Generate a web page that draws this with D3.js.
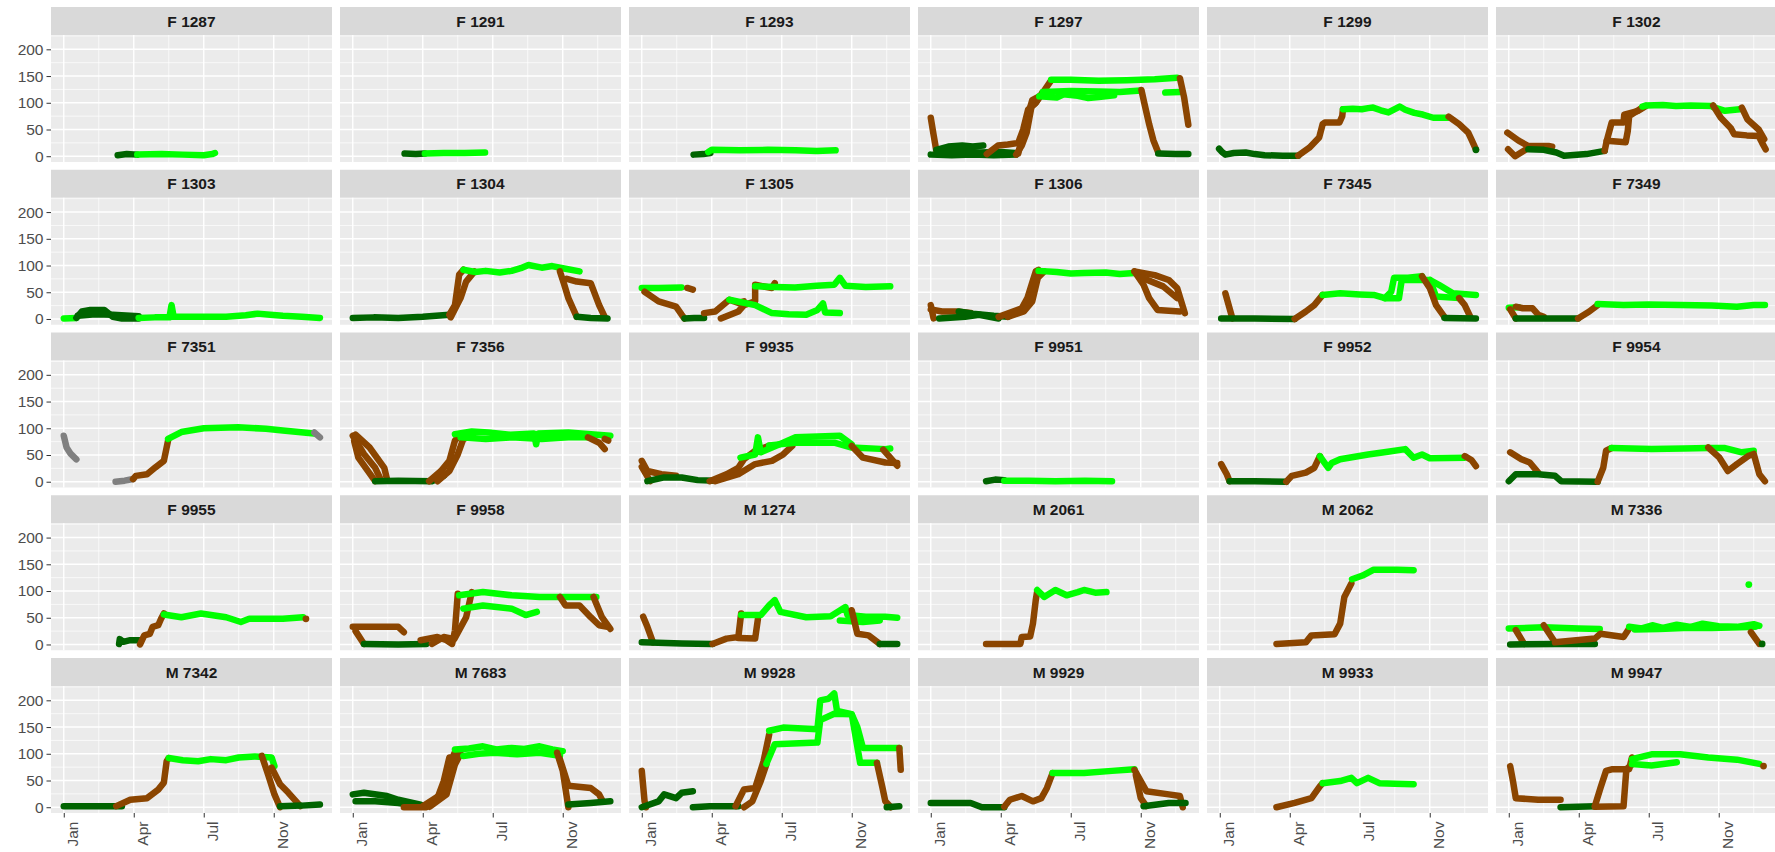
<!DOCTYPE html>
<html>
<head>
  <meta charset="utf-8"/>
  <title>Tracks by individual</title>
  <script src="https://cdn.jsdelivr.net/npm/d3@7"></script>
<style>
body { margin: 0; background: #fff; }
.strip text { font: bold 15.5px "Liberation Sans", Arial, sans-serif; fill: #1A1A1A; text-anchor: middle; }
.axis text { font: 15.5px "Liberation Sans", Arial, sans-serif; fill: #4D4D4D; }
.axis line { stroke: #333333; }
.axis path { display: none; }
</style>
</head>
<body>
<div id="chart"></div>
<script>
// panel names in facet order
var panelIds = ["F 1287","F 1291","F 1293","F 1297","F 1299","F 1302",
                "F 1303","F 1304","F 1305","F 1306","F 7345","F 7349",
                "F 7351","F 7356","F 9935","F 9951","F 9952","F 9954",
                "F 9955","F 9958","M 1274","M 2061","M 2062","M 7336",
                "M 7342","M 7683","M 9928","M 9929","M 9933","M 9947"];

var monthTicks = [0, 100, 200, 300];
var monthLabels = ["Jan", "Apr", "Jul", "Nov"];
var yTicks = [0, 50, 100, 150, 200];

// state codes: w = winter, m = migration, s = summer, u = unknown
// each segment: [state, day, value, day, value, ...]
var F1287 = [["w",77,2,90,4,105,3],["s",105,3,140,4,170,3,200,2,212,4,216,6]];
var F1291 = [["w",74,5,90,4,103,5],["s",103,5,130,6,160,6,189,7]];
var F1293 = [["w",74,3,88,4,98,6],["s",95,8,100,12,140,11,180,12,220,11,250,10,277,11]];
var F1297 = [["m",0,72,4,40,8,10,10,4],["w",0,3,30,2,60,3,90,2,122,3],["w",8,12,25,18,45,20,60,18,75,20],
  ["w",10,8,40,9,70,7,100,8,120,6],["m",80,4,96,20,110,22,125,25,132,50,139,87,150,100,158,115,172,142],
  ["m",122,3,130,20,137,44,144,93,150,100,160,120],["m",125,5,135,60,145,105,155,112],
  ["s",172,143,200,143,240,141,280,142,320,144,352,147],["s",160,120,200,122,240,121,270,120,300,123],
  ["s",155,112,180,110,190,116,210,113,225,109,240,111,262,114],["s",335,119,356,120],["m",356,146,362,110,368,59],
  ["m",301,124,305,100,312,60,318,30,325,7],["w",325,5,350,4,368,4]];
var F1299 = [["w",-1,14,3,8,8,3,20,6,37,7,50,4,64,2,90,1,112,1],
  ["m",112,1,128,16,142,35,147,60,150,63,171,63,175,75,176,88],
  ["s",176,88,190,89,203,88,212,90,219,91,230,86,241,82,257,93,265,87,278,81,290,78,305,72,326,72],
  ["m",327,74,342,60,355,44,360,30,366,13],["w",366,12]];
var F1302 = [["m",-2,44,14,29,28,19,57,19,62,18],["m",-1,13,9,0,25,13],["w",28,13,50,12,68,7,79,1,111,4,137,10],
  ["m",137,10,140,29,147,63,164,63,165,78,185,85,196,94],["m",140,29,167,26,170,47,172,75,191,91],
  ["s",191,93,196,95,220,96,239,94,260,95,292,94],["s",292,92,309,85,330,88],
  ["m",292,95,303,72,317,53,322,41,340,39,357,38,362,25,367,13],["m",333,91,341,69,357,50,365,32]];
var F1303 = [["s",0,1,18,2],["w",18,2,26,14,38,17,58,17,70,4,83,1,107,1],["w",20,6,45,9,70,8,95,6,107,5],
  ["s",107,2,130,3,151,3,154,26,157,4,192,4,232,4,260,7,277,10,295,8,313,6,340,4,366,2]];
var F1304 = [["w",0,2,30,3,65,2,100,4,138,8],["m",138,8,146,26,152,83,158,92],["m",140,3,154,39,162,70,174,89],
  ["s",158,92,175,88,190,90,210,87,227,90,240,95,251,101,270,96,285,99,300,95,324,89],["m",296,89,302,65,308,39,320,4],
  ["m",306,75,320,70,340,67,352,26,360,4],["w",320,4,340,2,364,1]];
var F1305 = [["s",0,58,24,58,57,59],["m",65,58,73,55],["m",4,51,24,33,49,23,57,8,61,1],["w",61,1,75,2,89,2],
  ["m",89,11,105,14,125,36,138,30,146,33],["m",113,1,138,14,146,26,162,33,162,64,186,58,190,67],
  ["s",162,61,190,60,219,59,250,62,275,64,283,77,291,62,320,60,355,61],
  ["s",125,36,162,26,186,11,210,9,235,8,251,17,259,29,262,12,283,11]];
var F1306 = [["m",0,26,4,1],["m",0,18,16,14,36,14,57,11],["w",12,1,49,4,69,8,97,1],["w",40,14,60,10,90,6,110,4],
  ["m",97,4,130,20,138,39,144,64,150,89,154,92],["m",110,4,133,14,145,33,153,77,162,89],
  ["s",154,90,180,88,200,85,219,86,250,87,270,84,291,86],["m",291,89,304,64,312,39,324,17,356,14],
  ["m",291,89,320,82,340,73,352,58,363,11],["m",300,78,332,61,352,39]];
var F7345 = [["m",8,48,18,1],["w",2,1,50,1,107,0],["m",107,0,123,14,135,26,147,45],
  ["s",147,45,172,48,200,46,220,45,236,39,245,51,249,77,269,77,289,80],
  ["s",236,39,256,39,260,73,300,73,313,64,333,48,366,45],["s",300,73,309,42,342,39],
  ["m",289,80,300,58,309,26,321,4],["m",342,39,350,26,358,4],["w",321,2,366,1]];
var F7349 = [["s",0,21,14,22],["m",10,23,20,20,34,20,42,8,50,4],["m",2,18,10,1],["w",10,1,66,1,99,1],
  ["m",99,1,115,14,127,26],["s",127,28,164,26,200,27,245,26,290,25,326,23,350,26,366,26]];
var F7351 = [["u",0,86,4,64,10,52,18,42],["u",74,0,87,2,99,5],["m",99,5,103,11,119,14,131,27,143,39,149,77],
  ["s",149,80,168,93,200,100,249,102,289,99,313,96,350,91,358,90],["u",358,92,366,83]];
var F7356 = [["m",0,86,16,52,32,26,40,4],["m",4,88,24,64,45,26,49,4],["m",2,76,8,45,32,1],
  ["w",32,1,65,2,113,1,130,11],["m",109,1,126,20,138,39,146,77,154,89],["m",121,1,138,20,150,51,158,80,170,86],
  ["s",146,89,170,94,194,92,225,88,259,90,262,70,265,90,308,92,368,86],["s",154,83,190,80,227,83,270,80,308,83,340,83],
  ["m",336,83,352,73,360,61],["m",360,80,365,77]];
var F9935 = [["m",0,39,8,20,28,14,49,11],["m",0,28,12,1],["w",8,1,32,8,57,8,80,3,105,2],
  ["m",97,1,121,14,138,26,146,42,162,58,182,67],["m",105,1,138,14,162,33,186,39,202,51,215,67],
  ["s",141,45,162,51,166,83,170,55,186,64,202,73,219,83,283,86,300,70],
  ["s",182,68,219,73,275,73,300,64,348,61,355,62],["m",300,67,316,45,348,36,365,35],["m",345,60,355,45,365,30]];
var F9951 = [["w",79,1,92,4,105,3],["s",105,2,140,2,178,1,220,2,259,1]];
var F9952 = [["m",2,33,10,14,14,1],["w",14,1,50,1,95,0],["m",95,0,103,11,123,17,135,26,143,48],
  ["s",143,48,150,35,155,26,160,35,172,42,212,51,240,56,265,61,277,45,289,51,300,44,350,45],
  ["m",350,48,360,40,366,29]];
var F9954 = [["m",2,55,18,42,30,36,42,17],["w",0,1,10,14,42,14,66,11,75,1,127,0],["m",127,0,135,26,139,58,147,63],
  ["s",147,63,204,61,250,62,285,63,309,63,333,55,350,58],
  ["m",285,64,301,45,313,20,326,33,342,48,350,52,358,14,366,1]];
var F9955 = [["w",79,1,80,10,85,5,95,8,109,8],["m",109,0,115,17,123,20,127,33,135,36,139,48,143,58],
  ["s",143,56,168,51,196,58,232,51,253,42,265,48,313,48,342,51],["m",346,48]];
var F9958 = [["m",0,33,24,33,65,33,73,23],["m",4,25,16,1],["w",16,1,65,0,105,1],
  ["m",97,8,121,14,134,8,142,1,146,26,150,95],["m",113,1,130,14,145,10,162,51,170,98],
  ["s",152,92,186,98,227,92,267,89,308,89,348,89],["s",158,67,186,73,227,67,247,55,263,61],
  ["m",296,89,304,73,324,73,340,51,352,36,364,33],["m",344,89,356,51,368,29]];
var M1274 = [["m",2,52,8,33,16,4],["w",0,4,57,2,101,1],["m",101,1,121,11,138,14,142,58],["m",138,12,162,11,166,48],
  ["s",142,55,170,55,182,73,190,83,198,61,235,51,270,53,291,70,294,55,320,52,348,52,365,50],
  ["s",283,45,316,42,340,45],["m",300,64,308,20,324,17,340,1],["w",340,1,365,1]];
var M2061 = [["m",79,1,128,1,130,14,142,15,146,39,150,83,152,99],
  ["s",152,102,162,89,178,102,194,92,210,98,219,102,235,97,251,98]];
var M2062 = [["m",81,1,123,4,131,17,164,19,172,39,178,89,188,114],["s",189,122,204,129,220,140,253,140,277,139]];
var M7336 = [["s",0,30,50,32,100,30,130,29],["m",50,36,66,4],["m",10,27,22,1],["w",2,0,66,1,123,1],
  ["m",66,4,123,11,131,20,164,14,172,30],
  ["s",172,33,190,30,205,36,220,31,240,37,260,33,277,39,300,34,326,33,350,38,358,35],
  ["s",180,28,215,29,250,31,290,31,330,32,352,33],
  ["s",343,112],["m",346,23,358,1],["w",362,1]];
var M7342 = [["w",0,2,40,2,83,2],["m",75,2,95,14,119,17,135,33,143,46,147,86,150,92],
  ["s",150,92,170,88,192,86,210,90,232,88,250,93,273,95,297,93,301,77],["m",283,96,292,61,301,24,309,0],
  ["m",297,74,309,43,321,27,338,2],["w",309,2,340,3,366,5]];
var M7683 = [["w",0,24,16,27,49,21,65,14,97,5],["w",4,11,32,11,65,8,97,2],["m",73,0,105,0,121,17,130,49,138,93],
  ["m",100,2,126,24,138,80,146,103],["m",110,1,134,24,146,80,154,100],
  ["s",146,108,166,110,186,114,205,108,227,111,245,109,267,114,285,108,300,105],["s",158,96,180,100,202,102,235,99,267,102,296,96],
  ["m",292,102,300,68,308,0],["m",296,90,308,40,340,36,352,24,356,14],["w",308,5,340,8,368,11]];
var M9928 = [["m",0,68,4,11,6,0],["w",0,0,24,11,32,24,49,17,57,27,73,30],["w",73,0,97,2,138,2],
  ["m",134,2,146,33,162,36,174,86,182,136],["m",146,0,158,11,170,49,178,80],
  ["s",182,143,202,149,251,146,255,200,267,203,275,213,279,180,300,174,308,150,316,111,368,111],
  ["s",178,81,190,118,251,121,255,163,275,175,300,174,312,83,336,83],
  ["m",336,83,344,36,348,11,356,0],["w",350,0,368,2],["m",368,111,370,70]];
var M9929 = [["w",0,8,57,8,73,0,105,0],["m",105,1,113,14,130,21,146,11,158,17,166,36,174,64],
  ["s",174,64,219,64,259,68,291,71],["m",291,70,300,49,308,30,340,24,356,21,360,0],
  ["m",293,60,300,17,308,2],["w",304,2,340,8,364,8]];
var M9933 = [["m",81,0,107,8,131,17,143,39,147,45],["s",147,45,172,49,188,55,196,45,212,55,228,45,250,44,277,43]];
var M9947 = [["m",2,77,6,49,10,17,42,14,74,14],["w",74,0,123,2],["m",123,2,131,36,139,68,147,71,172,71,176,93],
  ["m",123,1,164,2,168,71,176,80],["s",176,90,204,99,245,99,285,93,326,89,358,81],["s",176,81,204,78,240,84],
  ["m",364,77]];

var panelTracks = [F1287,F1291,F1293,F1297,F1299,F1302,F1303,F1304,F1305,F1306,F7345,F7349,
                   F7351,F7356,F9935,F9951,F9952,F9954,F9955,F9958,M1274,M2061,M2062,M7336,
                   M7342,M7683,M9928,M9929,M9933,M9947];

var stateColour = {w: "#006400", m: "#8B4500", s: "#00FF00", u: "#808080"};

var width = 1775, height = 852,
    ncol = 6, left0 = 51, colStep = 289, top0 = 7, rowStep = 162.75,
    pw = 281, ph = 127, stripH = 28;

var x = d3.scaleLinear().domain([-18.25, 383.25]).range([0, pw]);
var y = d3.scaleLinear().domain([-10.8, 226.8]).range([ph, 0]);

var line = d3.line().x(function(d) { return x(d[0]); }).y(function(d) { return y(d[1]); });

var svg = d3.select("#chart").append("svg")
    .attr("width", width)
    .attr("height", height);

svg.append("defs").append("clipPath").attr("id", "panelClip")
  .append("rect").attr("width", pw).attr("height", ph);

function toPoints(seg) {
  var pts = [];
  for (var i = 1; i < seg.length; i += 2) pts.push([seg[i], seg[i + 1]]);
  return pts;
}

panelIds.forEach(function(id, k) {
  var col = k % ncol, row = Math.floor(k / ncol);
  var g = svg.append("g")
      .attr("transform", "translate(" + (left0 + col * colStep) + "," + (top0 + row * rowStep) + ")");

  var strip = g.append("g").attr("class", "strip");
  strip.append("rect").attr("width", pw).attr("height", stripH).attr("fill", "#D9D9D9");
  strip.append("text").attr("x", pw / 2).attr("y", stripH / 2).attr("dy", "0.36em").text(id);

  var p = g.append("g").attr("transform", "translate(0," + stripH + ")");
  p.append("rect").attr("width", pw).attr("height", ph).attr("fill", "#EBEBEB");

  // minor grid
  p.selectAll(".vminor").data([50, 150, 250, 350]).enter().append("line")
      .attr("x1", x).attr("x2", x).attr("y1", 0).attr("y2", ph)
      .attr("stroke", "#fff").attr("stroke-width", 0.7);
  p.selectAll(".hminor").data([25, 75, 125, 175, 225]).enter().append("line")
      .attr("y1", y).attr("y2", y).attr("x1", 0).attr("x2", pw)
      .attr("stroke", "#fff").attr("stroke-width", 0.7);
  // major grid
  p.selectAll(".vmajor").data(monthTicks).enter().append("line")
      .attr("x1", x).attr("x2", x).attr("y1", 0).attr("y2", ph)
      .attr("stroke", "#fff").attr("stroke-width", 1.4);
  p.selectAll(".hmajor").data(yTicks).enter().append("line")
      .attr("y1", y).attr("y2", y).attr("x1", 0).attr("x2", pw)
      .attr("stroke", "#fff").attr("stroke-width", 1.4);

  var marks = p.append("g").attr("clip-path", "url(#panelClip)");
  panelTracks[k].forEach(function(seg) {
    var pts = toPoints(seg), c = stateColour[seg[0]];
    if (pts.length === 1) {
      marks.append("circle").attr("cx", x(pts[0][0])).attr("cy", y(pts[0][1]))
          .attr("r", 3.4).attr("fill", c);
    } else {
      marks.append("path").datum(pts).attr("d", line)
          .attr("fill", "none").attr("stroke", c).attr("stroke-width", 6.5)
          .attr("stroke-linecap", "round").attr("stroke-linejoin", "round");
    }
  });

  if (col === 0) {
    p.append("g").attr("class", "axis")
        .call(d3.axisLeft(y).tickValues(yTicks).tickSize(4.5).tickPadding(3));
  }
  if (row === 4) {
    var ax = p.append("g").attr("class", "axis")
        .attr("transform", "translate(0," + ph + ")")
        .call(d3.axisBottom(x).tickValues(monthTicks).tickSize(4.5)
              .tickFormat(function(d, i) { return monthLabels[i]; }));
    ax.selectAll("text")
        .attr("transform", "rotate(-90)")
        .attr("text-anchor", "end")
        .attr("x", -8.5)
        .attr("y", 14)
        .attr("dy", 0);
  }
});
</script>
</body>
</html>
